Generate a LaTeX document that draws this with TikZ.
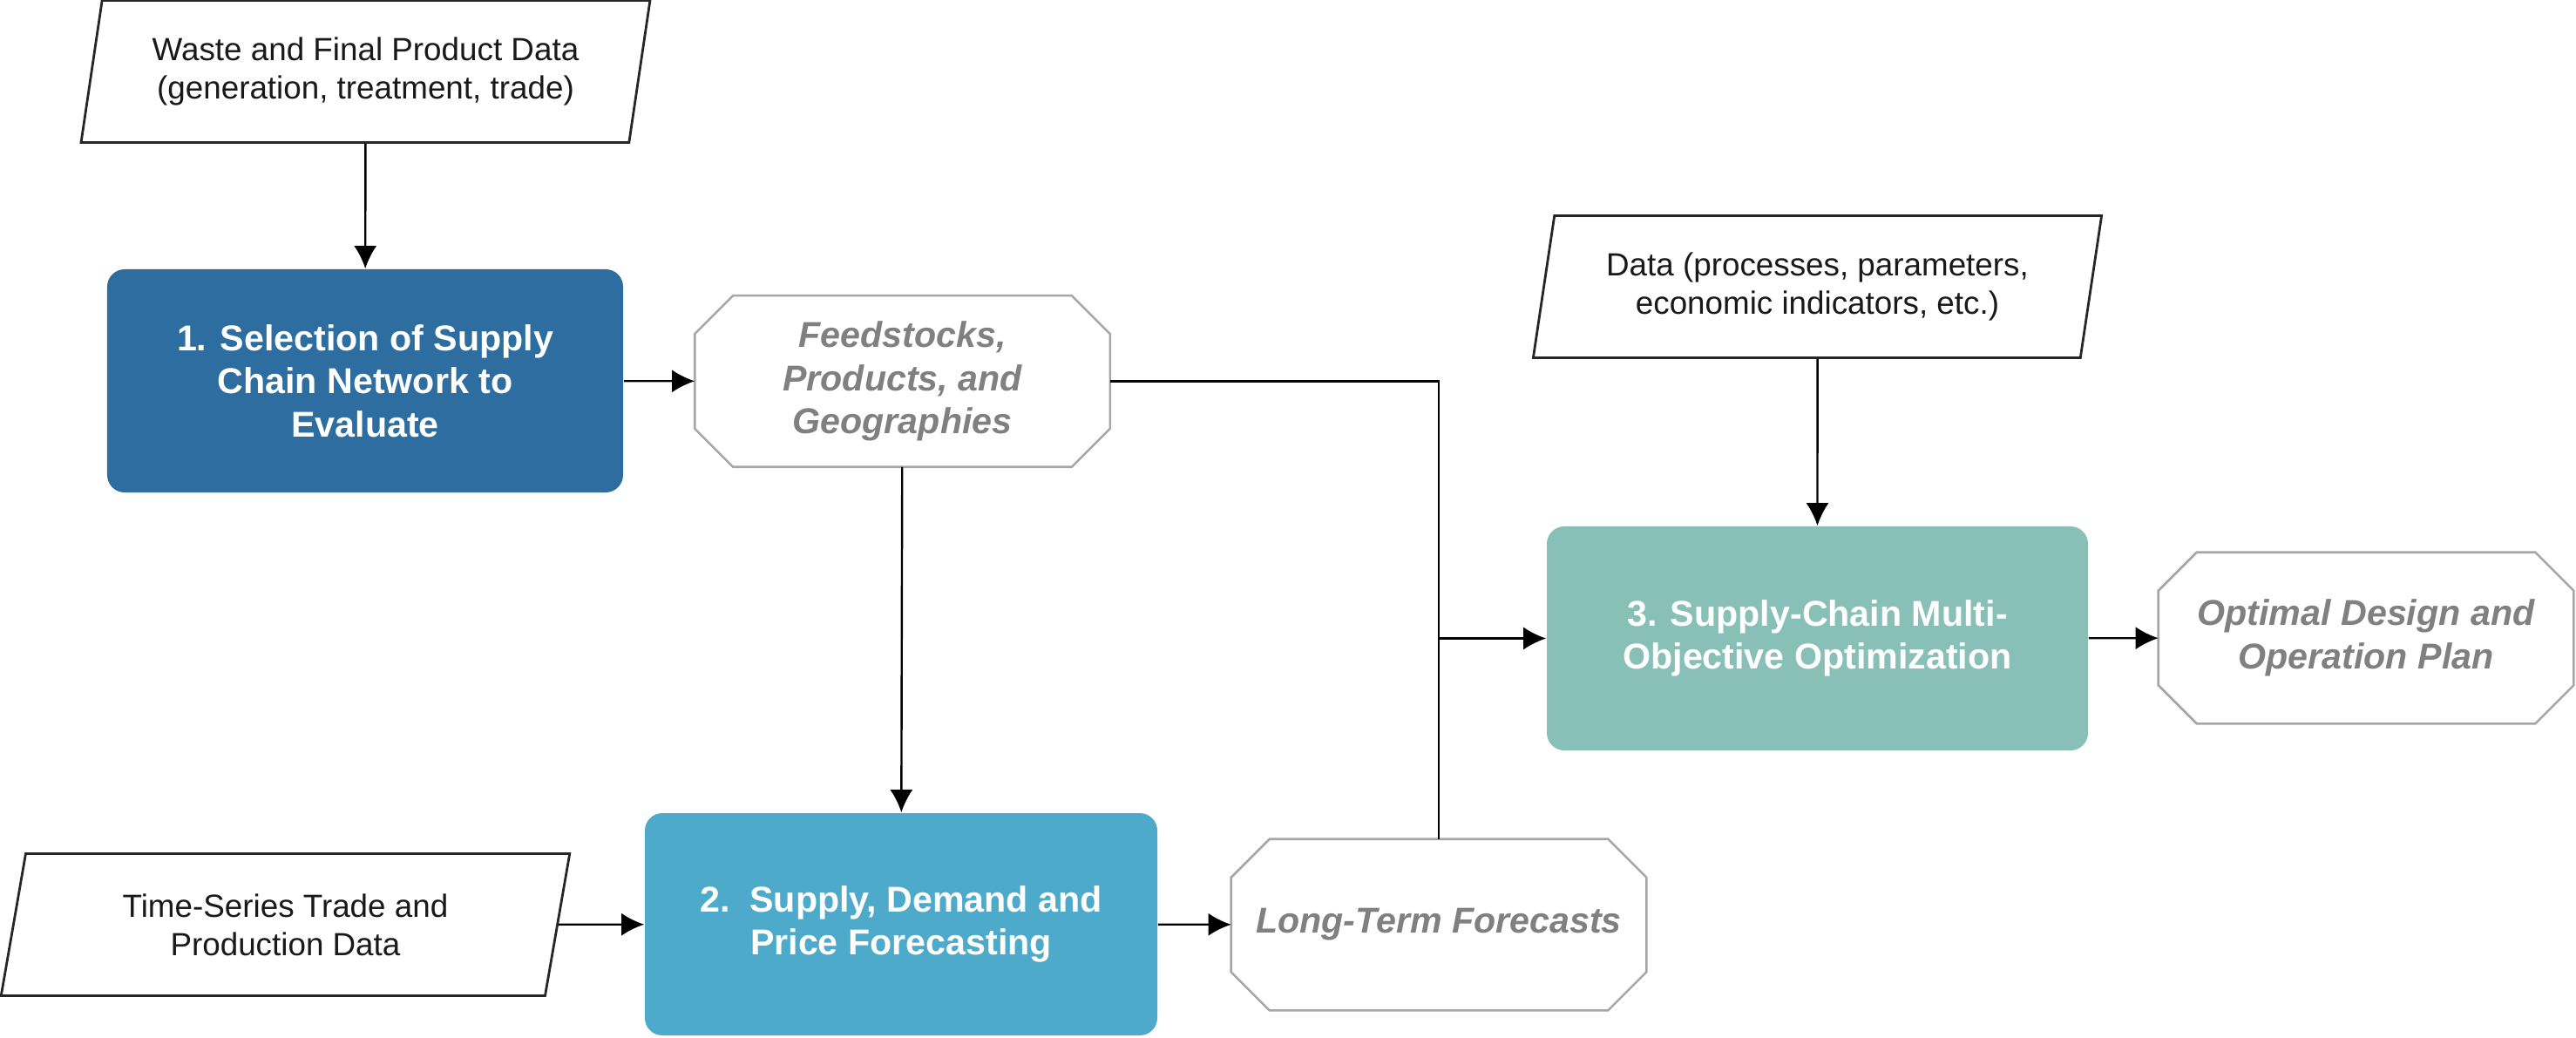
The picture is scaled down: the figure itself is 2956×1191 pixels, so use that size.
\documentclass[tikz,border=0pt]{standalone}
\usepackage{fontspec}
\setmainfont{Liberation Sans}
\usetikzlibrary{shapes.geometric,arrows.meta}

\begin{document}
\begin{tikzpicture}[x=0.25bp,y=-0.25bp]
	\tikzstyle{datainput} = [draw=black!85, line width=0.7bp, shape=trapezium, trapezium left angle=76, trapezium right angle=104, trapezium stretches=true, minimum width=163.25bp, minimum height=40.75bp, inner sep=0pt, align=center, text=black!90, font=\fontsize{9.2bp}{11bp}\selectfont]
	\tikzstyle{stepbox} = [rounded corners=5bp, minimum width=148bp, minimum height=64bp, inner sep=0pt, align=center, text=white, font=\fontsize{10.3bp}{12.4bp}\selectfont\bfseries]
	\tikzstyle{result} = [shape=rectangle, minimum width=118.75bp, minimum height=48.75bp, inner sep=0pt, align=center, text=gray, font=\fontsize{10.3bp}{12.4bp}\selectfont\bfseries\itshape]
	\tikzstyle{resultframe} = [draw=black!35, line width=0.65bp, line join=miter]
	\tikzstyle{flow} = [-{Latex[length=6.5bp,width=6.5bp]}, line width=0.6bp]

	\def\cut{11bp}
	\definecolor{selblue}{HTML}{2E6DA0}
	\definecolor{fcblue}{HTML}{4DAACB}
	\definecolor{optgreen}{HTML}{88C0B7}

	\useasboundingbox (0,0) rectangle (2956,1191);

	% NODES %
	\node[datainput] (waste) at (419.5,82) {Waste and Final Product Data\\(generation, treatment, trade)};
	\node[datainput] (data) at (2085.5,329) {Data (processes, parameters,\\economic indicators, etc.)};
	\node[datainput] (series) at (327.5,1061) {Time-Series Trade and\\Production Data};

	\node[stepbox, fill=selblue] (select) at (419,437) {1. Selection of Supply\\Chain Network to\\Evaluate};
	\node[stepbox, fill=fcblue, minimum width=147bp, minimum height=63.75bp] (forecast) at (1034,1060.5) {2.\ \ Supply, Demand and\\Price Forecasting};
	\node[stepbox, fill=optgreen, minimum width=155.25bp, minimum height=64.25bp] (optim) at (2085.5,732.5) {3. Supply-Chain Multi-\\Objective Optimization};

	\node[result] (feed) at (1035.5,437.5) {Feedstocks,\\Products, and\\Geographies};
	\node[result] (longterm) at (1651,1061) {Long-Term Forecasts};
	\node[result] (plan) at (2715,732) {Optimal Design and\\Operation Plan};

	% octagon outlines of the results
	\foreach \n in {feed,longterm,plan}
		\draw[resultframe] ([xshift=\cut]\n.north west) -- ([xshift=-\cut]\n.north east) -- ([yshift=-\cut]\n.north east) -- ([yshift=\cut]\n.south east) -- ([xshift=-\cut]\n.south east) -- ([xshift=\cut]\n.south west) -- ([yshift=\cut]\n.south west) -- ([yshift=-\cut]\n.north west) -- cycle;

	\coordinate (merge) at (longterm.north |- optim.west);

	% EDGES %
	\draw[flow] (waste) -- (select);
	\draw[flow] (select) -- (feed);
	\draw[flow] (feed) -- (forecast);
	\draw[flow] (series) -- (forecast);
	\draw[flow] (forecast) -- (longterm);
	%merge into step 3
	\draw[line width=0.6bp] (feed.east) -| (merge) -- (longterm.north);
	\draw[flow] (merge) -- (optim);
	\draw[flow] (data) -- (optim);
	\draw[flow] (optim) -- (plan);
\end{tikzpicture}
\end{document}
